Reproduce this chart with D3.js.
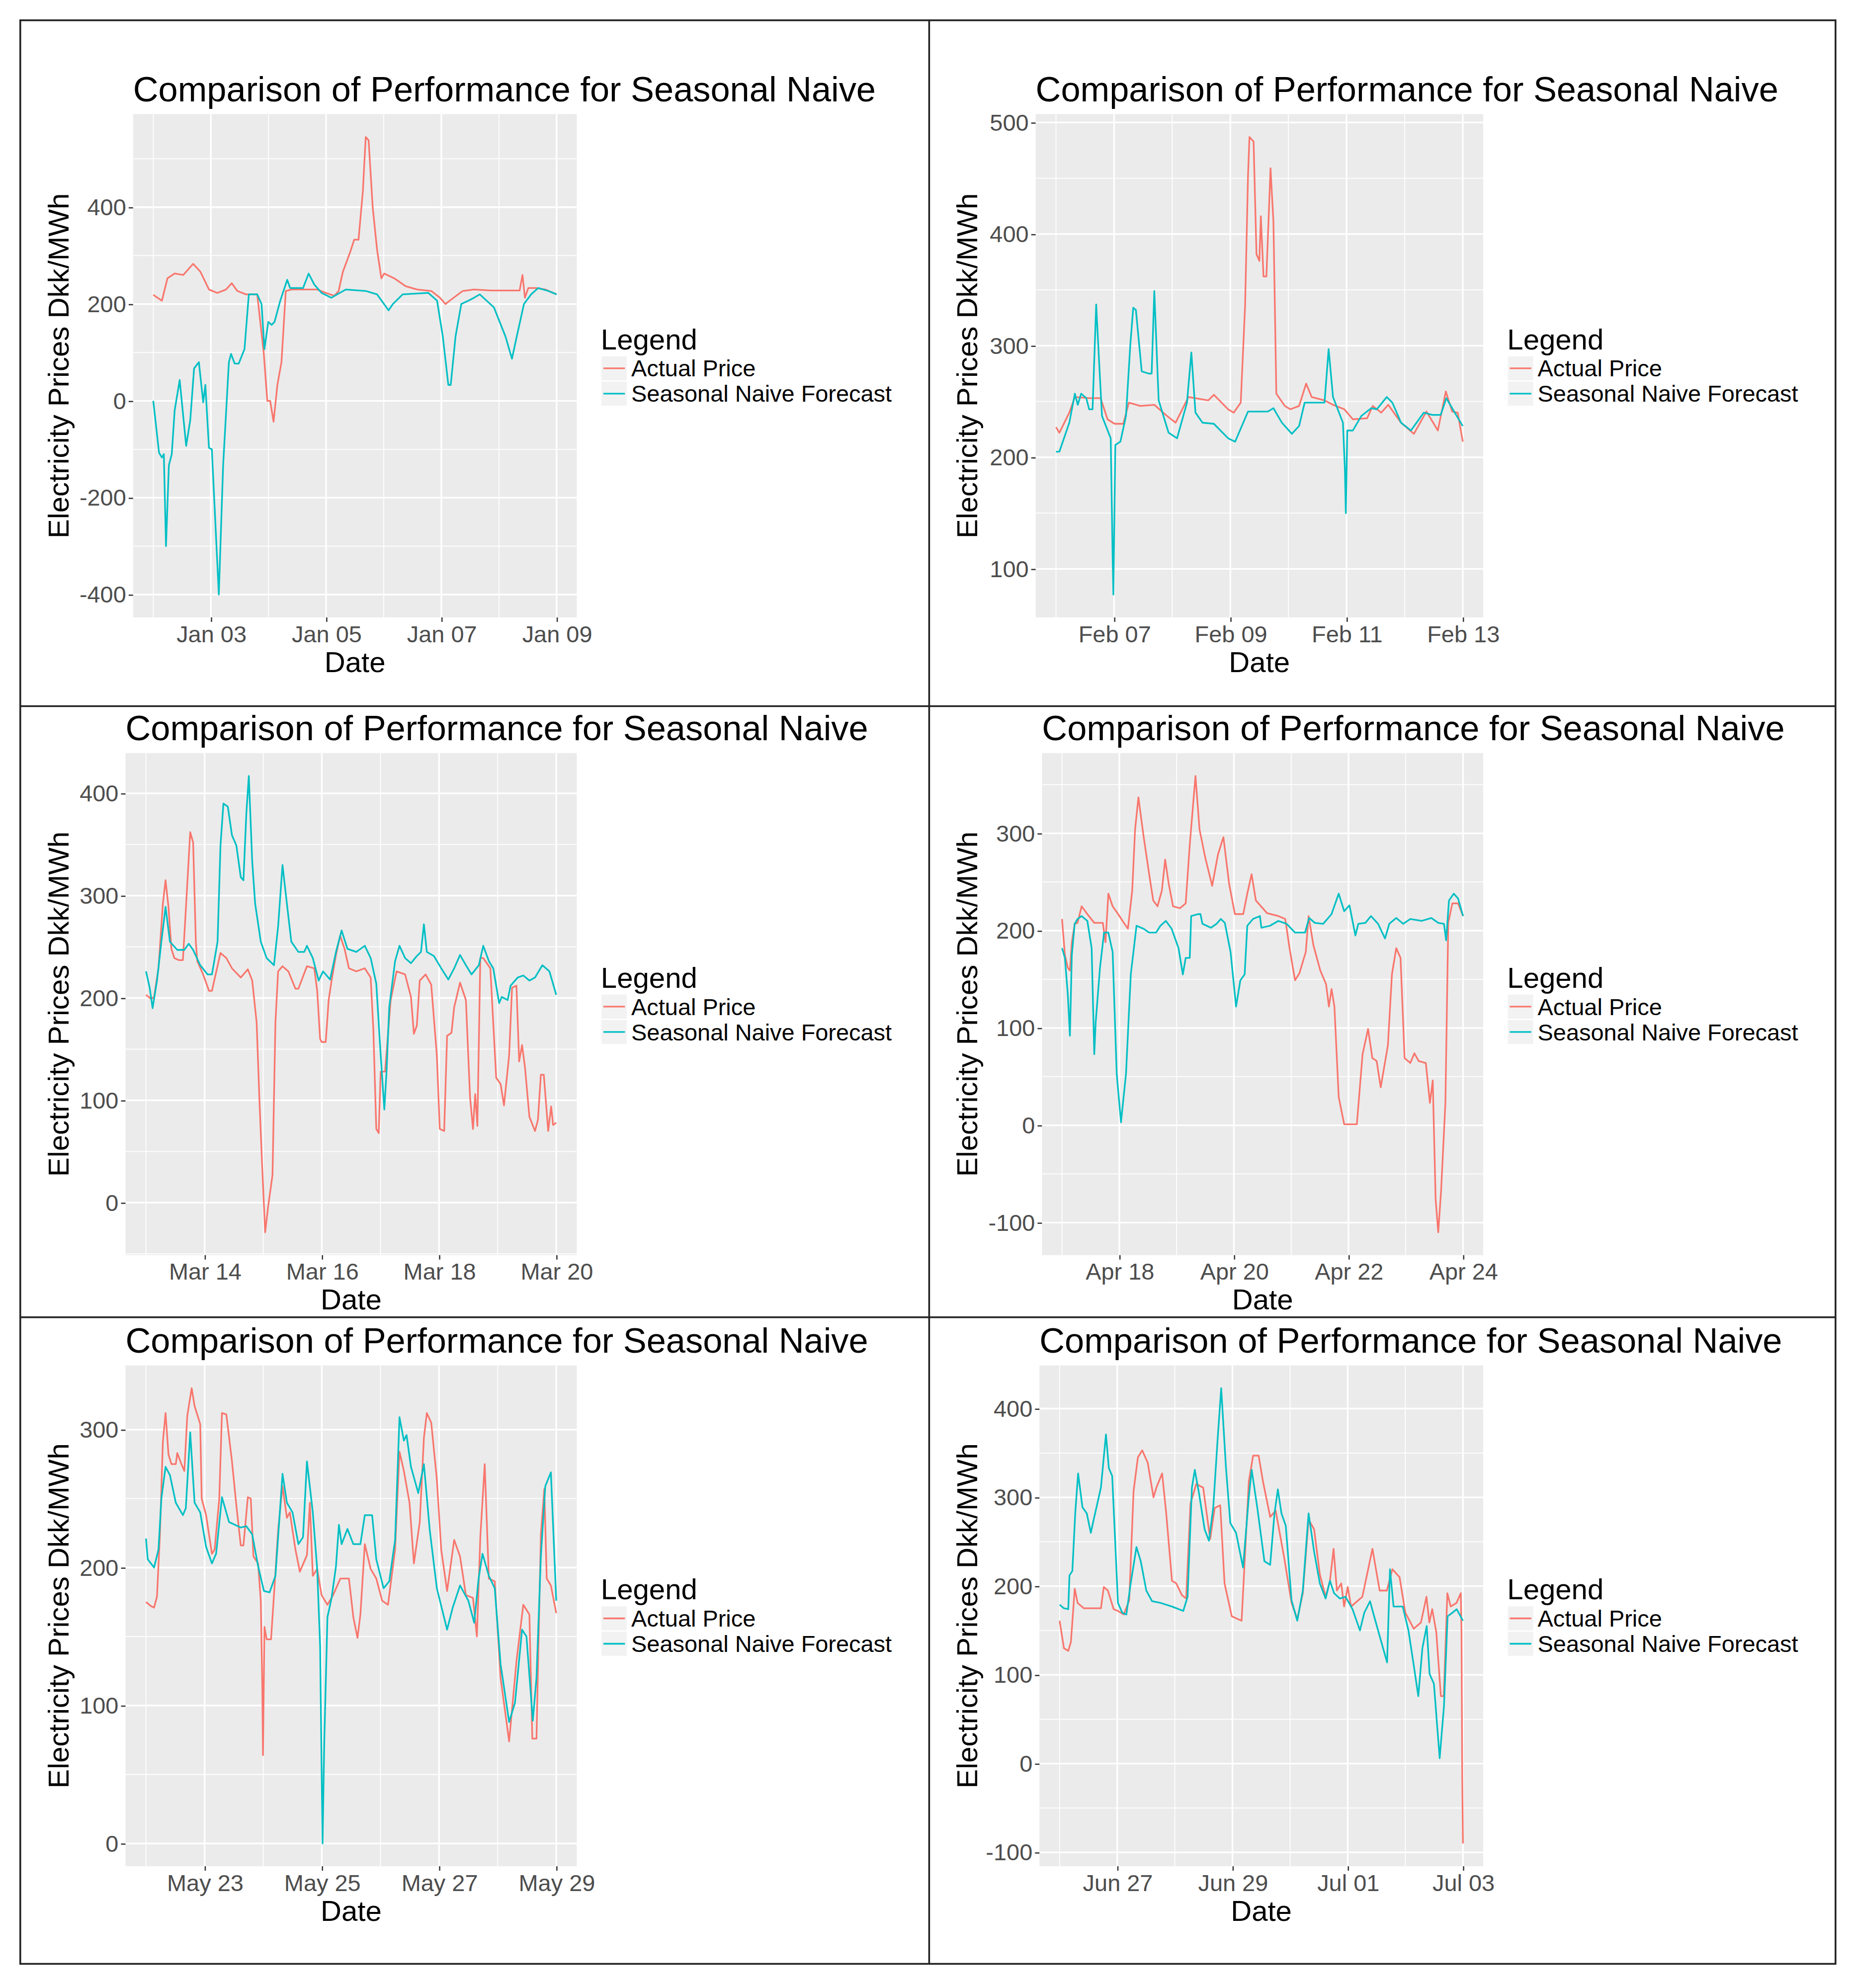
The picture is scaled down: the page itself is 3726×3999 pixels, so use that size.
<!DOCTYPE html>
<html>
<head>
  <meta charset="UTF-8">
  <title>Comparison of Performance for Seasonal Naive</title>
  <style>
    body{ margin:0; background:#fff; }
    svg{ display:block; }
    text{ font-family:"Liberation Sans", Arial, sans-serif; }
  </style>
</head>
<body>
<svg></svg>
<script src="https://d3js.org/d3.v7.min.js"></script>
<script>

// ---- data (hours since first date, Dkk/MWh) ----
const seriesNames = ["Actual Price", "Seasonal Naive Forecast"];
const seriesColors = ["#F8766D", "#00BFC4"];
const chartTitle = "Comparison of Performance for Seasonal Naive";

const startDates = ["2017-01-02", "2017-02-06", "2017-03-13", "2017-04-17", "2017-05-22", "2017-06-26"];

const xTickDates = [
  ["2017-01-03", "2017-01-05", "2017-01-07", "2017-01-09"],
  ["2017-02-07", "2017-02-09", "2017-02-11", "2017-02-13"],
  ["2017-03-14", "2017-03-16", "2017-03-18", "2017-03-20"],
  ["2017-04-18", "2017-04-20", "2017-04-22", "2017-04-24"],
  ["2017-05-23", "2017-05-25", "2017-05-27", "2017-05-29"],
  ["2017-06-27", "2017-06-29", "2017-07-01", "2017-07-03"]
];

const yTicks = [
  [-400, -200, 0, 200, 400],
  [100, 200, 300, 400, 500],
  [0, 100, 200, 300, 400],
  [-100, 0, 100, 200, 300],
  [0, 100, 200, 300],
  [-100, 0, 100, 200, 300, 400]
];

const janActual = [[0,219],[3.6,207],[5.9,253],[8.9,263],[12.5,260],[16.6,283],[19.6,267],[23.2,230],[26.7,223],[30.3,230],[32.7,243],[35,227],[38.6,220],[43.3,220],[46,100],[47.5,0],[48.7,0],[50.1,-43],[51.7,33],[53.4,80],[55.2,227],[57.6,230],[68.3,230],[71.9,223],[75.4,217],[77.2,227],[79,267],[82,307],[83.7,333],[85.5,333],[87.3,433],[88.5,545],[89.7,538],[91.4,400],[93.2,313],[95,253],[96.2,263],[100.4,253],[103.3,243],[105.1,237],[109.9,230],[115.8,227],[119.4,213],[121.7,200],[123.5,207],[128.9,227],[133.6,230],[140.7,228],[152.6,228],[153.8,260],[154.8,213],[156.2,233],[159.7,233],[163.3,230],[168,220]];
const janForecast = [[0,0],[2.4,-107],[3.6,-117],[4.4,-110],[5.3,-300],[6.5,-133],[7.7,-110],[8.9,-20],[11,43],[13.7,-93],[15.4,-40],[17,67],[19,80],[20.8,-3],[21.7,33],[23.2,-97],[24.4,-100],[27.3,-400],[29.1,-133],[31.5,80],[32.4,97],[33.9,77],[35.6,77],[38,107],[39.8,220],[43.3,220],[45.1,200],[46.3,107],[47.9,163],[49.3,157],[50.5,163],[52.9,207],[55.8,250],[57,233],[62.4,233],[64.7,263],[67.1,240],[70.1,223],[74.2,213],[76.6,220],[80.2,230],[88.5,227],[93.2,220],[98,187],[99.8,200],[103.9,220],[114.6,223],[118.2,207],[120.6,133],[122.9,33],[123.9,33],[125.9,133],[128.3,200],[131.3,207],[133.6,213],[136,220],[141.9,193],[146.7,133],[149.4,87],[151.4,133],[154.4,200],[157.4,220],[160.3,233],[164.5,227],[168,220]];

const febActual = [[0,227],[1.4,222],[5.5,240],[7.8,254],[13.7,253],[18.4,253],[21.3,234],[24.2,230],[27.8,230],[30.1,249],[34.8,246],[40.6,247],[45.3,238],[49.4,231],[54.7,254],[62.9,251],[65.2,256],[71.1,243],[73.4,240],[76.3,249],[78.1,336],[79.3,452],[79.9,487],[81.6,483],[82.8,382],[84,376],[84.6,416],[85.7,362],[86.9,362],[88.6,459],[89.8,411],[91,257],[94.5,246],[96.8,243],[100.4,246],[103.3,266],[105.6,254],[110.9,251],[114.4,247],[119.1,243],[122.6,234],[128.5,235],[130.8,246],[134.3,240],[137.2,247],[142.5,231],[147.8,221],[153,241],[157.7,224],[161,259],[163.6,241],[165.9,240],[168,214]];
const febForecast = [[0,205],[1.4,205],[5.5,231],[7.8,257],[9,247],[10.4,257],[12.5,253],[13.7,243],[15.1,243],[16.6,337],[17.8,286],[19,237],[22.6,217],[23.4,109],[23.7,77],[24.5,211],[26.6,214],[28.9,237],[30.7,301],[31.9,334],[33,332],[35.4,277],[38.3,275],[39.5,275],[40.6,349],[42.4,251],[46.5,222],[50,217],[54.1,249],[55.9,294],[57.6,240],[60.5,231],[65.2,230],[71.1,217],[74,214],[79.3,241],[87.5,241],[89.8,244],[93.3,231],[97.4,221],[100.4,228],[102.7,249],[110.9,249],[112.6,297],[114.4,254],[118.5,231],[119.3,190],[119.7,150],[120.3,224],[122.6,224],[126.1,237],[130.2,244],[132.5,243],[136.6,254],[138.9,249],[142.5,231],[146.6,224],[151.9,240],[155.4,238],[158.9,238],[161.2,253],[164.7,240],[168,228]];

const marActual = [[0,203],[2.1,199],[3.3,201],[5.1,229],[6.9,292],[8,315],[9.2,289],[10.4,248],[11.6,239],[13.4,237],[15.1,237],[16.3,286],[18.1,362],[19.3,352],[20.4,255],[21,236],[23.4,223],[25.8,207],[27,207],[30.5,244],[32.9,239],[35.2,229],[38.8,220],[41.7,228],[43.5,217],[45.3,176],[46.5,97],[47.6,34],[48.8,-29],[50,-4],[51.8,27],[53,176],[54.1,226],[55.9,231],[58.3,226],[61.2,209],[62.4,209],[65.9,231],[68.9,229],[70.1,207],[71.3,160],[71.9,157],[73.6,157],[74.8,198],[76,217],[77.8,242],[79.5,261],[81.3,248],[83.1,229],[86.1,226],[89.6,229],[92,220],[93.1,169],[94.3,72],[95.3,68],[96.1,128],[97.9,128],[100.2,198],[102.6,226],[106.1,223],[108.5,201],[109.7,165],[110.9,173],[112.1,217],[114.5,223],[116.8,213],[119.1,144],[120.3,72],[122.1,70],[123.3,163],[125.1,166],[126.2,191],[128.6,215],[131,198],[132.7,103],[133.9,72],[134.8,106],[135.7,75],[136.9,239],[138.1,239],[141,229],[143.4,122],[145.2,116],[146.6,95],[148.7,144],[149.9,210],[151.7,212],[152.8,138],[154,154],[155.2,132],[157,84],[159.3,70],[160.5,81],[161.7,125],[162.9,125],[164.7,70],[165.9,94],[166.7,76],[168,78]];
const marForecast = [[0,226],[1.5,210],[2.7,190],[4.5,217],[6.3,255],[8,289],[9.8,255],[12.8,247],[15.7,247],[17.5,253],[19.3,247],[22.2,232],[25.2,223],[27,223],[29.3,255],[30.5,349],[31.7,390],[33.5,387],[35.2,359],[37,349],[38.8,318],[39.9,315],[41.1,381],[42.1,417],[43.5,333],[44.7,292],[47,255],[49.4,239],[52.4,232],[54.1,270],[55.9,330],[57.7,292],[59.5,255],[62.4,245],[64.8,245],[65.9,251],[68.3,239],[70.7,217],[72.5,226],[75.4,218],[77.8,245],[80.1,266],[82.5,248],[86.1,245],[89.6,251],[92,239],[94.3,214],[96.1,144],[97.6,91],[98.5,128],[99.6,191],[102,236],[103.8,251],[106.1,239],[108.5,234],[110.9,241],[112.6,245],[113.8,272],[115,245],[117.9,241],[120.9,229],[123.8,218],[126.2,229],[128.6,242],[131,232],[133.3,223],[136.3,232],[138.1,251],[140.4,236],[142.2,229],[144.6,195],[145.7,201],[148.1,198],[149.3,212],[152.2,220],[154.5,222],[157,217],[159.3,220],[162.3,232],[165.2,226],[168,203]];

const aprActual = [[0,212],[1.2,175],[2.4,162],[3.3,159],[4.1,188],[5.3,207],[6.5,208],[8.2,225],[10.6,217],[13.5,208],[17.1,208],[18.2,188],[19.4,238],[21.2,225],[23.5,217],[25.9,208],[27.6,202],[29.4,241],[30.6,304],[32,337],[34.1,298],[36.5,258],[38.2,231],[40,225],[41.8,241],[43.2,273],[44.7,248],[46.5,225],[49.4,223],[51.8,228],[53.5,288],[55.9,359],[57.6,304],[60,275],[62.9,246],[65.3,278],[67.6,296],[70,248],[72.4,217],[75.9,217],[77.6,238],[79.4,258],[81.2,231],[85.9,218],[90.6,215],[93.5,212],[95.3,182],[97.6,149],[99.4,156],[102.1,178],[103.3,215],[105.3,185],[108.2,159],[110.6,145],[111.8,122],[112.9,140],[114.1,122],[115.9,29],[118.2,1],[123.5,1],[125.9,73],[128.2,99],[130,69],[131.8,66],[133.5,39],[136.5,82],[138.2,155],[140,182],[141.8,172],[143.5,69],[145.9,64],[147.6,74],[149.4,66],[152.4,64],[154.1,23],[155.3,46],[156.5,-76],[157.6,-110],[158.8,-67],[160.6,23],[161.8,208],[163.5,228],[165.9,228],[168,215]];
const aprForecast = [[0,182],[1.2,172],[2.4,135],[3.3,92],[4.1,175],[5.3,207],[6.5,212],[8.2,215],[10.6,210],[12.4,182],[13.5,73],[14.1,106],[15.9,162],[17.6,198],[19.4,198],[21.2,178],[22.9,53],[24.7,3],[26.8,53],[28.8,155],[31.2,205],[34.1,202],[36.5,198],[39.4,198],[41.2,205],[43.5,210],[45.9,202],[48.8,182],[50.6,155],[51.8,172],[53.5,172],[54.1,215],[57.1,217],[58,217],[58.8,207],[62.4,203],[64.7,207],[66.5,212],[68.2,208],[70.6,178],[72.9,122],[74.7,149],[76.5,155],[77.6,205],[80,212],[82.9,215],[83.5,203],[87.1,205],[90.6,210],[94.1,207],[97.6,198],[101.8,198],[103.5,213],[105.9,208],[109.4,207],[112.9,217],[115.9,238],[118.2,220],[120.4,226],[122.9,195],[124.1,207],[127.1,208],[129.4,215],[132.4,207],[135.3,192],[137.1,207],[140,213],[142.9,207],[145.9,212],[150.6,210],[154.7,213],[157.6,208],[160,207],[160.9,190],[162.1,231],[164.1,238],[165.9,233],[168,215]];

const mayActual = [[0,175],[2.1,172],[3.3,171],[4.5,179],[5.7,224],[6.9,291],[8,312],[9.2,282],[10.4,275],[12.2,275],[12.8,283],[14.5,275],[15.7,270],[16.9,310],[18.7,330],[19.9,317],[22.2,304],[22.8,250],[24.6,238],[27,210],[28.1,213],[30,250],[31.1,312],[32.9,311],[35.2,277],[37,245],[38.8,216],[39.9,216],[41.7,251],[42.9,250],[44,208],[45.9,203],[47,176],[47.6,116],[47.9,64],[48.5,157],[49.4,148],[51.2,148],[52.4,180],[54.1,227],[55.9,259],[57.7,236],[58.9,240],[61.2,213],[63,197],[65.9,209],[67.1,247],[68.3,194],[70.1,199],[71.9,180],[74.3,173],[76.6,180],[79.6,192],[83.1,192],[84.9,164],[86.6,149],[87.8,166],[89.6,217],[92,199],[94.3,192],[96.7,176],[99.1,173],[102,213],[103.8,284],[105.6,270],[107.9,247],[109.7,203],[112.1,233],[113.8,294],[115,312],[116.8,305],[119.1,264],[120.9,213],[123.3,183],[126.2,220],[128.6,208],[131,180],[133.9,178],[135.5,150],[136.9,222],[138.7,275],[140.4,192],[142.8,190],[145.2,120],[148.7,74],[151.7,132],[154.5,173],[157,166],[158.2,76],[159.9,76],[161.7,224],[163.1,257],[164.1,192],[165.8,187],[168,167]];
const mayForecast = [[0,221],[0.7,206],[3.3,200],[5.1,213],[6.3,250],[8,273],[9.8,267],[12.2,247],[15.1,238],[16.3,243],[18.1,298],[19.9,247],[22.2,240],[24.6,215],[27,203],[28.7,210],[31.1,251],[34,233],[38.8,229],[41.1,230],[43.5,224],[45.9,201],[48.3,183],[50.6,182],[53,194],[55.9,268],[57.7,247],[60,240],[62.4,217],[64.3,222],[65.9,277],[68.3,240],[70.1,199],[71.3,143],[71.9,56],[72.3,0],[73,74],[74.3,164],[76,178],[77.8,201],[79,231],[80.1,217],[82.5,228],[84.9,217],[87.8,217],[89.6,238],[92.6,238],[94.3,206],[97.3,185],[99.6,190],[102,220],[103.8,309],[105.6,292],[106.7,296],[108.5,273],[111.5,254],[113.8,275],[116.2,227],[119.1,185],[123.3,155],[125.6,171],[128.6,187],[132,176],[134.4,160],[136.2,192],[137.8,210],[140.4,194],[142.8,185],[145.2,130],[148.7,88],[151.1,102],[154,155],[155.8,150],[158.4,89],[159.9,120],[161.7,208],[163.5,259],[165.8,269],[168,176]];

const junActual = [[0,161],[1.8,130],[3.6,127],[4.7,137],[6.3,197],[7.5,181],[10.1,175],[17.2,175],[18.4,199],[20.1,195],[22.5,174],[24.3,172],[26.7,168],[29,184],[30.8,307],[32.6,345],[34.4,353],[36.7,339],[39.1,300],[40.3,311],[42.7,327],[44.4,282],[46.8,206],[48.6,203],[50.9,190],[52.7,186],[54.5,293],[56.9,315],[59.8,311],[62.7,253],[64.6,288],[66.9,291],[68.7,203],[71.7,166],[75.8,161],[78.8,318],[80.6,347],[82.9,347],[84.7,318],[87.7,278],[90,285],[93.6,231],[96.6,181],[99,163],[101.3,192],[103.7,275],[106,264],[108.4,213],[110.8,188],[112.6,206],[114.1,242],[115.5,195],[117.3,203],[118.5,177],[120,199],[121.4,177],[126.1,188],[130.3,242],[133.3,195],[136.3,195],[138.6,219],[141.6,210],[144,170],[147.5,152],[150.5,159],[152.8,188],[154,159],[155.2,174],[156.9,148],[158.8,76],[160,76],[161.5,192],[162.9,177],[165.3,181],[167.1,192],[167.4,148],[167.7,-14],[168,-90]];
const junForecast = [[0,179],[1.8,175],[3.6,174],[4.1,212],[5.3,217],[6.5,282],[7.7,327],[9.5,289],[11.3,282],[13,260],[14.2,275],[17.2,311],[19.3,371],[20.5,333],[21.9,324],[23.1,253],[24.3,181],[26.1,170],[27.8,168],[29.6,203],[32,244],[33.8,228],[36.1,195],[38.5,183],[42.1,181],[46.8,177],[51.5,172],[53.3,188],[55.1,311],[56.3,331],[58.1,304],[60.4,264],[62.2,251],[64,289],[65.8,365],[67.3,423],[69.3,333],[71.1,271],[73.5,260],[76.4,221],[78.8,300],[80,331],[82.3,289],[85.3,228],[87.7,224],[89.5,282],[90.9,309],[92.4,282],[94.2,268],[96.6,184],[99,161],[101.3,195],[103.7,282],[106,239],[108.4,203],[110.8,186],[112.6,206],[114.3,192],[116.7,186],[119.1,188],[122,174],[125.1,150],[126.9,170],[129.3,183],[131,166],[134,137],[136.4,114],[137.6,219],[139.1,177],[142.9,177],[145.3,150],[147.6,109],[149.4,76],[151.1,130],[152.9,155],[154.1,101],[155.9,90],[158.3,6],[160.1,65],[161.6,166],[163.6,170],[165.4,174],[168,161]];

const actualSeries = [janActual, febActual, marActual, aprActual, mayActual, junActual];
const forecastSeries = [janForecast, febForecast, marForecast, aprForecast, mayForecast, junForecast];

// ---- layout (units of a 1461-wide view box) ----
const W = 1461, H = 3999 * 1461 / 3726;
const panels = [
  {cellX: 16,  x0: 105, x1: 455,  y0: 90,   y1: 487},
  {cellX: 733, x0: 817, x1: 1170, y0: 90,   y1: 487},
  {cellX: 16,  x0: 99,  x1: 455,  y0: 594,  y1: 990},
  {cellX: 733, x0: 822, x1: 1170, y0: 594,  y1: 990},
  {cellX: 16,  x0: 99,  x1: 455,  y0: 1077, y1: 1472},
  {cellX: 733, x0: 820, x1: 1170, y0: 1077, y1: 1472}
];

const svg = d3.select("svg")
    .attr("width", 3726)
    .attr("height", 3999)
    .attr("viewBox", "0 0 " + W + " " + H);

svg.append("rect").attr("width", W).attr("height", H).attr("fill", "#fff");

const parseDay = d3.timeParse("%Y-%m-%d");
const HOUR = 3600e3;
const fmt = d3.timeFormat("%b %d");

function drawPanel(i) {
    const p = panels[i];
    const start = parseDay(startDates[i]);
    const end = new Date(+start + 168 * HOUR);
    const toPts = s => s.map(d => ({t: new Date(+start + d[0] * HOUR), v: d[1]}));
    const series = [toPts(actualSeries[i]), toPts(forecastSeries[i])];

    // ggplot-like 5% expansion
    const ext = d3.extent(series[0].concat(series[1]), d => d.v);
    const yp = (ext[1] - ext[0]) * 0.05;
    const y = d3.scaleLinear().domain([ext[0] - yp, ext[1] + yp]).range([p.y1, p.y0]);
    const xp = (end - start) * 0.05;
    const x = d3.scaleTime().domain([new Date(+start - xp), new Date(+end + xp)]).range([p.x0, p.x1]);

    const g = svg.append("g");
    g.append("rect")
        .attr("x", p.x0).attr("y", p.y0)
        .attr("width", p.x1 - p.x0).attr("height", p.y1 - p.y0)
        .attr("fill", "#EBEBEB");

    // minor grid
    const yt = yTicks[i];
    const ystep = yt[1] - yt[0];
    const yMinor = [yt[0] - ystep / 2].concat(yt.map(v => v + ystep / 2))
        .filter(v => v >= y.domain()[0] && v <= y.domain()[1]);
    const xt = xTickDates[i].map(parseDay);
    const xstep = xt[1] - xt[0];
    const xMinor = [new Date(+xt[0] - xstep / 2)].concat(xt.map(d => new Date(+d + xstep / 2)))
        .filter(d => d >= x.domain()[0] && d <= x.domain()[1]);

    g.selectAll(".ymin").data(yMinor).enter().append("line")
        .attr("x1", p.x0).attr("x2", p.x1)
        .attr("y1", d => y(d)).attr("y2", d => y(d))
        .attr("stroke", "#fff").attr("stroke-width", 0.7);
    g.selectAll(".xmin").data(xMinor).enter().append("line")
        .attr("y1", p.y0).attr("y2", p.y1)
        .attr("x1", d => x(d)).attr("x2", d => x(d))
        .attr("stroke", "#fff").attr("stroke-width", 0.7);
    g.selectAll(".ymaj").data(yt).enter().append("line")
        .attr("x1", p.x0).attr("x2", p.x1)
        .attr("y1", d => y(d)).attr("y2", d => y(d))
        .attr("stroke", "#fff").attr("stroke-width", 1.3);
    g.selectAll(".xmaj").data(xt).enter().append("line")
        .attr("y1", p.y0).attr("y2", p.y1)
        .attr("x1", d => x(d)).attr("x2", d => x(d))
        .attr("stroke", "#fff").attr("stroke-width", 1.3);

    // series
    const line = d3.line().x(d => x(d.t)).y(d => y(d.v));
    series.forEach((s, k) => {
        g.append("path")
            .attr("d", line(s))
            .attr("fill", "none")
            .attr("stroke", seriesColors[k])
            .attr("stroke-width", 1.3)
            .attr("stroke-linejoin", "round");
    });

    // axes
    const ya = g.append("g")
        .attr("transform", "translate(" + p.x0 + ",0)")
        .call(d3.axisLeft(y).tickValues(yt).tickSize(3.5).tickPadding(2).tickFormat(d => String(d)));
    ya.select(".domain").remove();
    ya.selectAll("line").attr("stroke", "#333");
    ya.selectAll("text").attr("fill", "#4D4D4D").attr("font-size", 18.4)
        .attr("font-family", "Liberation Sans, Arial, sans-serif");

    const xa = g.append("g")
        .attr("transform", "translate(0," + p.y1 + ")")
        .call(d3.axisBottom(x).tickValues(xt).tickSize(3.5).tickPadding(2.9).tickFormat(fmt));
    xa.select(".domain").remove();
    xa.selectAll("line").attr("stroke", "#333");
    xa.selectAll("text").attr("fill", "#4D4D4D").attr("font-size", 18.4)
        .attr("font-family", "Liberation Sans, Arial, sans-serif");

    // titles
    g.append("text")
        .attr("x", p.x0).attr("y", p.y0 - 10)
        .attr("font-size", 27.6).attr("fill", "#000")
        .text(chartTitle);
    g.append("text")
        .attr("x", (p.x0 + p.x1) / 2).attr("y", p.y1 + 43)
        .attr("text-anchor", "middle")
        .attr("font-size", 22.8).attr("fill", "#000")
        .text("Date");
    g.append("text")
        .attr("transform", "translate(" + (p.cellX + 38) + "," + ((p.y0 + p.y1) / 2) + ") rotate(-90)")
        .attr("text-anchor", "middle")
        .attr("font-size", 22.8).attr("fill", "#000")
        .text("Electricity Prices Dkk/MWh");

    // legend
    const lx = p.x1 + 19, cy = (p.y0 + p.y1) / 2;
    const lg = g.append("g");
    lg.append("text").attr("x", lx).attr("y", cy - 13)
        .attr("font-size", 22.8).attr("fill", "#000").text("Legend");
    seriesNames.forEach((name, k) => {
        const ky = cy - 8 + k * 20;
        lg.append("rect").attr("x", lx).attr("y", ky).attr("width", 21).attr("height", 20)
            .attr("fill", "#F2F2F2").attr("stroke", "#fff").attr("stroke-width", 1);
        lg.append("line").attr("x1", lx + 2).attr("x2", lx + 19)
            .attr("y1", ky + 10).attr("y2", ky + 10)
            .attr("stroke", seriesColors[k]).attr("stroke-width", 1.3);
        lg.append("text").attr("x", lx + 24).attr("y", ky + 16.5)
            .attr("font-size", 18.4).attr("fill", "#000").text(name);
    });
}

panels.forEach((p, i) => drawPanel(i));

// frame around the six panels
const frame = svg.append("g").attr("stroke", "#222").attr("stroke-width", 1.4).attr("fill", "none");
frame.append("rect").attr("x", 16).attr("y", 16).attr("width", 1432).attr("height", 1533);
frame.append("line").attr("x1", 733).attr("x2", 733).attr("y1", 16).attr("y2", 1549);
frame.append("line").attr("x1", 16).attr("x2", 1448).attr("y1", 557).attr("y2", 557);
frame.append("line").attr("x1", 16).attr("x2", 1448).attr("y1", 1039).attr("y2", 1039);

</script>
</body>
</html>
